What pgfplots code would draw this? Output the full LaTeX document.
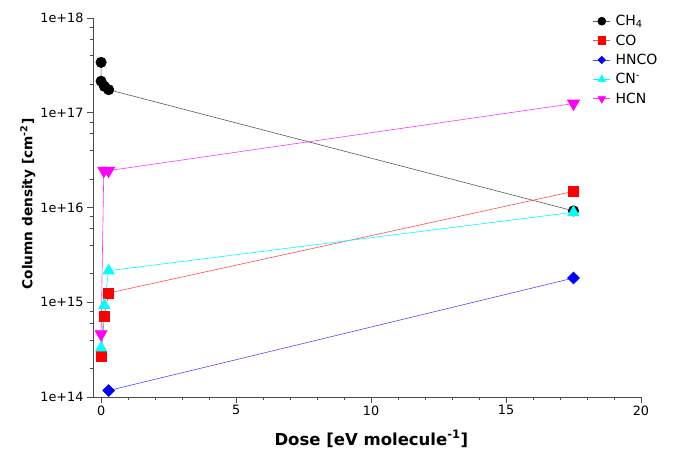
\documentclass[border=0pt]{standalone}
\usepackage{pgfplots}
\pgfplotsset{compat=1.18}
\usepackage{fontspec}
\setmainfont{DejaVu Sans}
\definecolor{cCO}{HTML}{FF0000}
\definecolor{cHNCO}{HTML}{0000FF}
\definecolor{cCN}{HTML}{00FFFF}
\definecolor{cHCN}{HTML}{FF00FF}
\begin{document}
\begin{tikzpicture}[x=1pt,y=1pt]
\path[use as bounding box] (0,0) rectangle (673,453);
\begin{axis}[
  at={(93pt,56pt)}, anchor=south west,
  width=548pt, height=379pt, scale only axis,
  xmin=-0.3, xmax=20, ymode=log, ymin=1e14, ymax=1e18,
  axis x line*=bottom, axis y line*=left,
  axis line style={-, black!70},
  every tick/.style={black!70, line width=0.6pt},
  tick align=outside,
  major tick length=6pt, minor tick length=3pt,
  xtick={0,5,10,15,20}, minor x tick num=4,
  ytick={1e14,1e15,1e16,1e17,1e18},
  yticklabels={1e+14,1e+15,1e+16,1e+17,1e+18},
  minor ytick={2e14,4e14,6e14,8e14,2e15,4e15,6e15,8e15,2e16,4e16,6e16,8e16,2e17,4e17,6e17,8e17},
  /pgf/number format/assume math mode=true,
  tick label style={font=\fontsize{12.8}{14}\selectfont},
  xticklabel style={yshift=1pt},
  xlabel={\textbf{Dose [eV molecule\textsuperscript{-1}]}},
  xlabel style={font=\fontsize{16.5}{18}\selectfont, at={(axis description cs:0.508,0)}, anchor=center, yshift=-42pt},
  ylabel={\textbf{Column density [cm\textsuperscript{-2}]}},
  ylabel style={font=\fontsize{13.7}{16}\selectfont, at={(axis description cs:-0.119,0.509)}, anchor=center, rotate=0},
  legend style={draw=none, fill=none, at={(rel axis cs:0.912,1.013)}, anchor=north west,
    font=\fontsize{14}{16}\selectfont, row sep=3.5pt, inner sep=0pt, legend cell align=left,
    /tikz/every odd column/.append style={column sep=3pt}},
]
\addplot[black!65, line width=0.6pt, mark=*, mark size=5.2pt, mark options={fill=black, draw=black}, forget plot]
  coordinates {(0,3.4e17) (0,2.15e17) (0.12,1.9e17) (0.28,1.75e17) (17.5,9.2e15)};
\addplot[cCO!70!white, line width=0.6pt, mark=square*, mark size=5pt, mark options={fill=cCO, draw=cCO}, forget plot]
  coordinates {(0,2.7e14) (0.12,7.1e14) (0.28,1.25e15) (17.5,1.48e16)};
\addplot[cHNCO!70!white, line width=0.6pt, mark=square*, mark size=4.2pt, mark options={fill=cHNCO, draw=cHNCO, rotate=45}, forget plot]
  coordinates {(0.28,1.17e14) (17.5,1.8e15)};
\addplot[cCN, line width=0.6pt, mark=triangle*, mark size=6.5pt, mark options={fill=cCN, draw=cCN}, forget plot]
  coordinates {(0,3.3e14) (0.12,9.3e14) (0.28,2.15e15) (17.5,8.9e15)};
\addplot[cHCN!80!white, line width=0.6pt, mark=triangle*, mark size=7pt, mark options={fill=cHCN, draw=cHCN, rotate=180}, forget plot]
  coordinates {(0,4.6e14) (0.1,2.45e16) (0.28,2.45e16) (17.5,1.25e17)};
\addlegendimage{black!65, line width=0.6pt, mark=*, mark size=4pt, mark options={fill=black, draw=black}}
\addlegendentry{CH\textsubscript{4}}
\addlegendimage{cCO!70!white, line width=0.6pt, mark=square*, mark size=3.8pt, mark options={fill=cCO, draw=cCO}}
\addlegendentry{CO}
\addlegendimage{cHNCO!70!white, line width=0.6pt, mark=square*, mark size=2.6pt, mark options={fill=cHNCO, draw=cHNCO, rotate=45}}
\addlegendentry{HNCO}
\addlegendimage{cCN, line width=0.6pt, mark=triangle*, mark size=4.4pt, mark options={fill=cCN, draw=cCN}}
\addlegendentry{CN\textsuperscript{-}}
\addlegendimage{cHCN!80!white, line width=0.6pt, mark=triangle*, mark size=4.4pt, mark options={fill=cHCN, draw=cHCN, rotate=180}}
\addlegendentry{HCN}
\end{axis}
\end{tikzpicture}
\end{document}
